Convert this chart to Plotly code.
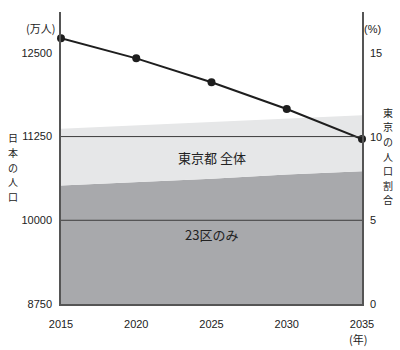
import plotly.graph_objects as go

years = [2015, 2020, 2025, 2030, 2035]
japan_pop = [12717, 12418, 12060, 11661, 11213]        # 万人 (left axis)
tokyo_total_pct = [10.5, 10.7, 10.9, 11.1, 11.3]      # % (right axis)
wards23_pct = [7.1, 7.3, 7.5, 7.75, 7.95]             # % (right axis)

left_ticks = [8750, 10000, 11250, 12500]
right_ticks = [0, 5, 10, 15]
grid_vals = [10000, 11250]

FONT = "Liberation Sans, Arial, Noto Sans CJK JP, sans-serif"
CJK = "Noto Sans CJK JP, sans-serif"

# plot area in pixels
L, R, T, B = 61, 362, 12, 304
W, H = 400, 350

def py(p):
    return (B - p) / (B - T)

def px(p):
    return (p - L) / (R - L)

fig = go.Figure()
fig.add_trace(go.Scatter(x=years, y=wards23_pct, yaxis="y", mode="lines",
                         line=dict(width=0, color="#a8a9ac"), fill="tozeroy",
                         fillcolor="#a8a9ac", hoverinfo="skip", showlegend=False))
fig.add_trace(go.Scatter(x=years, y=tokyo_total_pct, yaxis="y", mode="lines",
                         line=dict(width=0, color="#e6e7e8"), fill="tonexty",
                         fillcolor="#e6e7e8", hoverinfo="skip", showlegend=False))
fig.add_trace(go.Scatter(x=years, y=japan_pop, yaxis="y2", mode="lines+markers",
                         line=dict(width=2, color="#1e1e1e"),
                         marker=dict(size=8, color="#1e1e1e"),
                         cliponaxis=False, showlegend=False))

shapes = []
for g in grid_vals:
    shapes.append(dict(type="line", xref="paper", yref="y2", x0=0, x1=1, y0=g, y1=g,
                       line=dict(color="#3c3c3c", width=1), layer="above"))

annotations = []
STEP = 14.6
left_title = "日本の人口"
right_title = "東京の人口割合"
for i, ch in enumerate(left_title):
    yy = 167 + (i - (len(left_title) - 1) / 2) * STEP
    annotations.append(dict(text=ch, xref="paper", yref="paper", x=px(13), y=py(yy),
                            showarrow=False, font=dict(size=10, family=CJK, color="#222"),
                            xanchor="center", yanchor="middle"))
for i, ch in enumerate(right_title):
    yy = 156 + (i - (len(right_title) - 1) / 2) * STEP
    annotations.append(dict(text=ch, xref="paper", yref="paper", x=px(388), y=py(yy),
                            showarrow=False, font=dict(size=10, family=CJK, color="#222"),
                            xanchor="center", yanchor="middle"))
annotations += [
    dict(text="(万人)", xref="paper", yref="paper", x=px(40), y=py(28), showarrow=False,
         font=dict(size=11, family=CJK, color="#222"), xanchor="center", yanchor="middle"),
    dict(text="(%)", xref="paper", yref="paper", x=px(372), y=py(29), showarrow=False,
         font=dict(size=11, family=FONT, color="#222"), xanchor="center", yanchor="middle"),
    dict(text="(年)", xref="paper", yref="paper", x=px(358), y=py(339), showarrow=False,
         font=dict(size=11, family=CJK, color="#222"), xanchor="center", yanchor="middle"),
    dict(text="東京都 全体", xref="x", yref="paper", x=2025, y=py(157), showarrow=False,
         font=dict(size=13, family=CJK, color="#222"), xanchor="center", yanchor="middle"),
    dict(text="23区のみ", xref="x", yref="paper", x=2025, y=py(234), showarrow=False,
         font=dict(size=13, family=CJK, color="#222"), xanchor="center", yanchor="middle"),
]

fig.update_layout(
    width=W, height=H,
    margin=dict(l=L, r=W - R, t=T, b=H - B, pad=0),
    paper_bgcolor="white", plot_bgcolor="white",
    font=dict(family=FONT, size=11, color="#222"),
    xaxis=dict(range=[2015, 2035], tickvals=years, ticktext=[str(y) for y in years],
               showgrid=False, zeroline=False, showline=True, linecolor="#555", linewidth=1.5,
               ticks="", ticklabelstandoff=9, tickfont=dict(size=11)),
    yaxis=dict(side="right", range=[0, 17.49], tickvals=right_ticks,
               ticktext=[str(v) for v in right_ticks],
               showgrid=False, zeroline=False, showline=True, linecolor="#555", linewidth=1.5,
               ticks="", ticklabelstandoff=4, tickfont=dict(size=11)),
    yaxis2=dict(side="left", overlaying="y", range=[8750, 13110], tickvals=left_ticks,
                ticktext=[str(v) for v in left_ticks],
                showgrid=False, zeroline=False, showline=True, linecolor="#555", linewidth=1.5,
                ticks="", ticklabelstandoff=5, tickfont=dict(size=11)),
    shapes=shapes, annotations=annotations, showlegend=False,
)

fig.write_html("out.html")
